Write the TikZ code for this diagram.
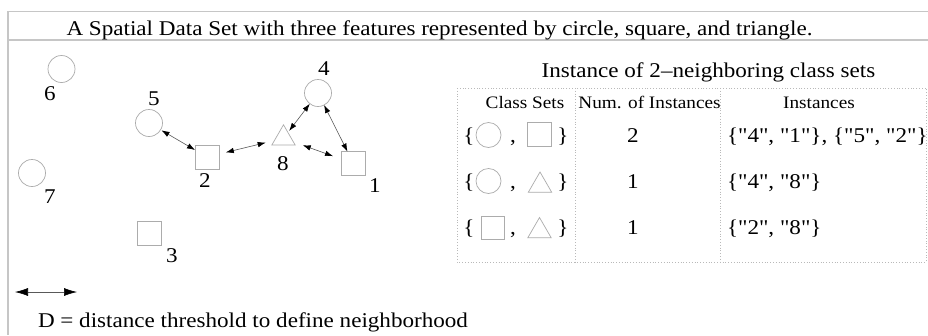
\documentclass[tikz,border=0pt]{standalone}
\usepackage{fontspec}
\setmainfont[FakeStretch=1.1]{Liberation Serif}
\newfontfamily\plainq[FakeStretch=1.1]{Liberation Serif}
\usetikzlibrary{shapes.geometric,arrows.meta}
\begin{document}
\begin{tikzpicture}[x=1pt,y=-1pt,
  shp/.style={draw=gray!65, line width=0.7pt, inner sep=0pt, outer sep=0pt},
  circ/.style={shp, circle, minimum size=27pt},
  sq/.style={shp, rectangle, minimum size=24pt},
  tri/.style={shp, regular polygon, regular polygon sides=3, minimum size=27pt},
  big/.style={inner sep=0pt, outer sep=0pt, font=\fontsize{21}{21}\selectfont},
  lbl/.style={big, anchor=base},
  inst/.style={inner sep=0pt, outer sep=0pt, anchor=base west, font=\plainq\fontsize{21}{21}\selectfont},
  hdr/.style={inner sep=0pt, anchor=base, font=\fontsize{17.5}{17.5}\selectfont},
  link/.style={draw=gray!70!black, line width=0.6pt,
    {Latex[length=8pt,width=5.5pt,color=black]}-{Latex[length=8pt,width=5.5pt,color=black]}},
  frameline/.style={draw=gray!45, line width=1.6pt},
  tabline/.style={draw=gray!55, dotted, line width=0.8pt}
]
\useasboundingbox (0,0) rectangle (928,335);
\fill[white] (0,0) rectangle (928,335);

% outer frame
\draw[frameline] (928,11.5) -- (8,11.5) -- (8,335);
\draw[frameline] (8,40) -- (928,40);
\node[lbl] (title) at (439.5,35) {A Spatial Data Set with three features represented by circle, square, and triangle.};

% spatial data
\node[circ] (c6) at (61.5,69) {};
\node[circ] (c5) at (149,123) {};
\node[circ] (c7) at (32,173) {};
\node[circ] (c4) at (318,93) {};
\node[sq] (s2) at (207,157) {};
\node[sq] (s1) at (353.5,163.5) {};
\node[sq] (s3) at (149.5,233) {};
\node[tri] (t8) at (283.5,138.3) {};

\node[lbl] (l6) at (50,100) {6};
\node[lbl] (l5) at (154,105) {5};
\node[lbl] (l7) at (50,203) {7};
\node[lbl] (l4) at (324,75) {4};
\node[lbl] (l8) at (283,170) {8};
\node[lbl] (l2) at (205,187) {2};
\node[lbl] (l1) at (375,192) {1};
\node[lbl] (l3) at (172,262) {3};

\draw[link, shorten <=1pt] (c5) -- (s2);
\draw[link, shorten <=7pt, shorten >=9pt] (s2) -- (t8);
\draw[link, shorten <=2pt] (t8) -- (c4);
\draw[link] (c4) -- (s1);
\draw[link, shorten <=10pt, shorten >=9pt] (t8) -- (s1);

% distance legend
\coordinate (da) at (15,292);
\coordinate (db) at (77,292);
\draw[draw=gray!70!black, line width=0.6pt,
  {Latex[length=13pt,width=8pt,color=black]}-{Latex[length=13pt,width=8pt,color=black]}] (da) -- (db);
\node[big, anchor=base west] (dtext) at (38,327) {D = distance threshold to define neighborhood};

% table
\node[lbl] (ttitle) at (708.5,77) {Instance of 2\textendash neighboring class sets};
\draw[tabline] (457,88) rectangle (926,262);
\draw[tabline] (575,88) -- (575,262);
\draw[tabline] (720,88) -- (720,262);

\node[hdr] (h1) at (525,108) {Class Sets};
\node[hdr] (h2) at (649.5,108) {Num. of Instances};
\node[hdr] (h3) at (819,108) {Instances};

% row 1
\node[lbl] (b1l) at (469,142) {\{};
\node[circ, minimum size=25pt] (r1c) at (488.5,135) {};
\node[lbl] (r1k) at (513,142) {,};
\node[sq] (r1s) at (539.5,134.5) {};
\node[lbl] (b1r) at (563,142) {\}};
\node[lbl] (n1) at (633,142) {2};
\node[inst] (i1) at (727,142) {\{"4", "1"\}, \{"5", "2"\}};

% row 2
\node[lbl] (b2l) at (469,188) {\{};
\node[circ, minimum size=25pt] (r2c) at (488.5,181) {};
\node[lbl] (r2k) at (513,188) {,};
\node[tri] (r2t) at (540,185.5) {};
\node[lbl] (b2r) at (563,188) {\}};
\node[lbl] (n2) at (633,188) {1};
\node[inst] (i2) at (727,188) {\{"4", "8"\}};

% row 3
\node[lbl] (b3l) at (469,234) {\{};
\node[sq, minimum size=23pt] (r3s) at (492.5,227.5) {};
\node[lbl] (r3k) at (513,234) {,};
\node[tri] (r3t) at (539.5,231) {};
\node[lbl] (b3r) at (563,234) {\}};
\node[lbl] (n3) at (633,234) {1};
\node[inst] (i3) at (727,234) {\{"2", "8"\}};
\end{tikzpicture}
\end{document}
